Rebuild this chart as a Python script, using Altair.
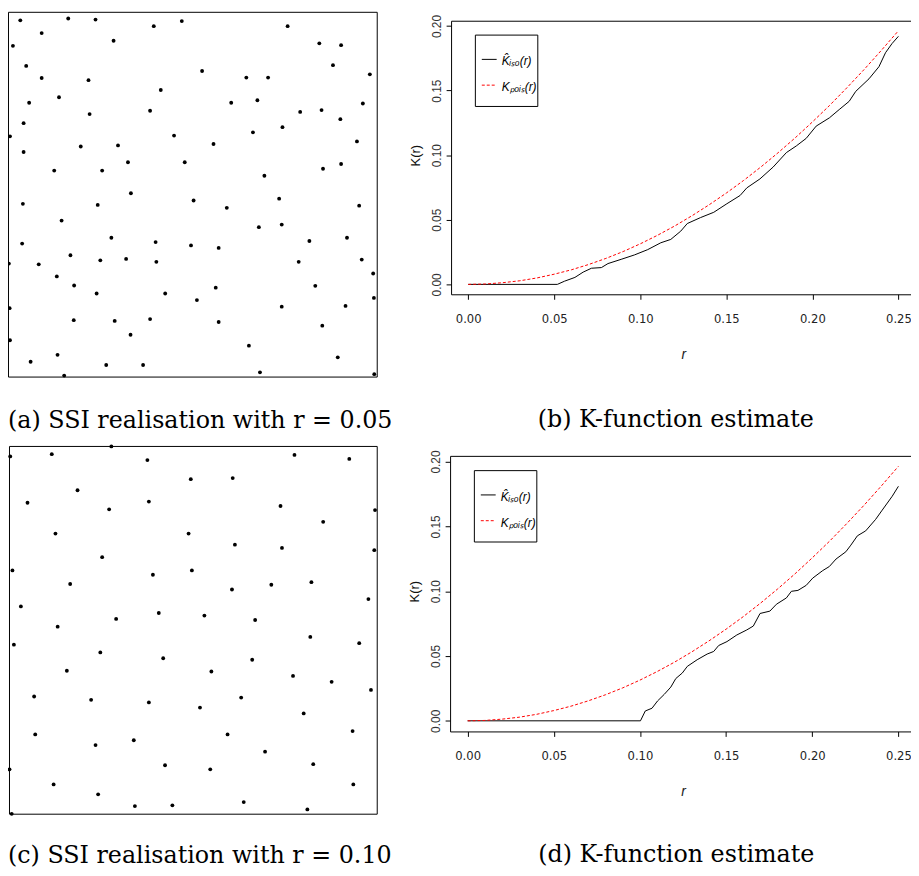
import altair as alt
import pandas as pd

# ---------------- data ----------------
# (a) SSI realisation, r = 0.05, unit square window
a_x = [0.032, 0.162, 0.236, 0.394, 0.470, 0.757, 0.090, 0.285, 0.012, 0.843,
       0.902, 0.048, 0.880, 0.525, 0.090, 0.217, 0.645, 0.704, 0.980, 0.413,
       0.137, 0.056, 0.604, 0.675, 0.961, 0.220, 0.384, 0.791, 0.849, 0.900,
       0.041, 0.743, 0.663, 0.004, 0.449, 0.556, 0.945, 0.041, 0.196, 0.297,
       0.324, 0.478, 0.124, 0.254, 0.853, 0.902, 0.694, 0.332, 0.734, 0.039,
       0.242, 0.502, 0.592, 0.951, 0.144, 0.679, 0.741, 0.279, 0.037, 0.399,
       0.495, 0.570, 0.816, 0.918, 0.168, 0.001, 0.082, 0.249, 0.319, 0.401,
       0.787, 0.958, 0.131, 0.989, 0.178, 0.239, 0.425, 0.562, 0.832, 0.511,
       0.991, 0.741, 0.914, 0.003, 0.177, 0.288, 0.384, 0.570, 0.851, 0.331,
       0.004, 0.652, 0.893, 0.133, 0.060, 0.265, 0.365, 0.682, 0.992, 0.151]
a_y = [0.978, 0.983, 0.980, 0.962, 0.976, 0.962, 0.943, 0.922, 0.908, 0.915,
       0.910, 0.853, 0.855, 0.839, 0.820, 0.814, 0.821, 0.821, 0.830, 0.787,
       0.767, 0.752, 0.752, 0.759, 0.750, 0.721, 0.730, 0.727, 0.732, 0.707,
       0.696, 0.685, 0.671, 0.660, 0.662, 0.639, 0.646, 0.617, 0.632, 0.635,
       0.589, 0.589, 0.566, 0.566, 0.571, 0.584, 0.552, 0.504, 0.489, 0.475,
       0.472, 0.484, 0.464, 0.470, 0.429, 0.411, 0.418, 0.382, 0.366, 0.370,
       0.361, 0.354, 0.373, 0.382, 0.334, 0.311, 0.309, 0.320, 0.324, 0.316,
       0.316, 0.322, 0.276, 0.284, 0.251, 0.229, 0.229, 0.245, 0.250, 0.211,
       0.217, 0.193, 0.195, 0.189, 0.156, 0.154, 0.159, 0.151, 0.141, 0.116,
       0.101, 0.086, 0.054, 0.061, 0.042, 0.033, 0.033, 0.013, 0.008, 0.004]

# (c) SSI realisation, r = 0.10
c_x = [0.277, 0.002, 0.115, 0.375, 0.775, 0.924, 0.493, 0.607, 0.185, 0.049,
       0.379, 0.271, 0.737, 0.994, 0.853, 0.125, 0.487, 0.613, 0.741, 0.992,
       0.252, 0.008, 0.390, 0.496, 0.165, 0.605, 0.712, 0.821, 0.976, 0.031,
       0.406, 0.530, 0.290, 0.668, 0.131, 0.818, 0.012, 0.951, 0.247, 0.418,
       0.660, 0.156, 0.549, 0.771, 0.876, 0.983, 0.067, 0.222, 0.379, 0.630,
       0.518, 0.800, 0.933, 0.070, 0.593, 0.338, 0.234, 0.695, 0.423, 0.826,
       0.000, 0.546, 0.120, 0.935, 0.241, 0.637, 0.341, 0.443, 0.810, 0.006]
c_y = [1.000, 0.973, 0.979, 0.963, 0.977, 0.966, 0.911, 0.914, 0.881, 0.847,
       0.850, 0.829, 0.838, 0.827, 0.795, 0.763, 0.763, 0.733, 0.724, 0.718,
       0.699, 0.663, 0.651, 0.663, 0.626, 0.611, 0.624, 0.631, 0.585, 0.565,
       0.547, 0.540, 0.531, 0.528, 0.510, 0.482, 0.461, 0.465, 0.440, 0.424,
       0.420, 0.390, 0.388, 0.376, 0.360, 0.338, 0.320, 0.311, 0.304, 0.317,
       0.290, 0.274, 0.226, 0.217, 0.217, 0.201, 0.188, 0.170, 0.133, 0.136,
       0.122, 0.122, 0.081, 0.081, 0.054, 0.033, 0.022, 0.024, 0.013, 0.001]

# theoretical Poisson K (red dashed), same in (b) and (d)
r_pois = [0.00, 0.01, 0.02, 0.03, 0.04, 0.05, 0.06, 0.07, 0.08, 0.09, 0.10, 0.11, 0.12,
          0.13, 0.14, 0.15, 0.16, 0.17, 0.18, 0.19, 0.20, 0.21, 0.22, 0.23, 0.24, 0.25]
k_pois = [0.0000, 0.0003, 0.0013, 0.0028, 0.0050, 0.0079, 0.0113, 0.0154, 0.0201,
          0.0254, 0.0314, 0.0380, 0.0452, 0.0531, 0.0616, 0.0707, 0.0804, 0.0908,
          0.1018, 0.1134, 0.1257, 0.1385, 0.1521, 0.1662, 0.1810, 0.1963]

# (b) isotropic K estimate
b_r = [0.0, 0.0518, 0.0560, 0.0620, 0.0668, 0.0716, 0.0774, 0.0812, 0.0889, 0.0966,
       0.1043, 0.1119, 0.1177, 0.1235, 0.1273, 0.1350, 0.1427, 0.1503, 0.1580, 0.1619,
       0.1695, 0.1772, 0.1849, 0.1907, 0.1964, 0.2022, 0.2099, 0.2156, 0.2214, 0.2252,
       0.2329, 0.2387, 0.2425, 0.2463, 0.2500]
b_k = [0.0, 0.0, 0.0025, 0.0054, 0.0095, 0.0125, 0.0130, 0.0161, 0.0194, 0.0228,
       0.0269, 0.0322, 0.0348, 0.0412, 0.0471, 0.0517, 0.0558, 0.0624, 0.0688, 0.0747,
       0.0816, 0.0908, 0.1020, 0.1072, 0.1130, 0.1225, 0.1289, 0.1353, 0.1417, 0.1494,
       0.1591, 0.1685, 0.1793, 0.1864, 0.1920]

# (d) isotropic K estimate
d_r = [0.0, 0.1003, 0.1031, 0.1070, 0.1102, 0.1141, 0.1179, 0.1208, 0.1246, 0.1275,
       0.1332, 0.1390, 0.1428, 0.1457, 0.1505, 0.1562, 0.1620, 0.1658, 0.1697, 0.1754,
       0.1792, 0.1850, 0.1879, 0.1917, 0.1965, 0.2003, 0.2061, 0.2099, 0.2138, 0.2195,
       0.2224, 0.2262, 0.2310, 0.2368, 0.2406, 0.2464, 0.2500]
d_k = [0.0, 0.0, 0.0076, 0.0097, 0.0153, 0.0204, 0.0260, 0.0326, 0.0369, 0.0420,
       0.0471, 0.0515, 0.0535, 0.0581, 0.0611, 0.0662, 0.0701, 0.0731, 0.0828, 0.0846,
       0.0899, 0.0948, 0.0999, 0.1006, 0.1045, 0.1101, 0.1159, 0.1190, 0.1248, 0.1304,
       0.1355, 0.1427, 0.1465, 0.1554, 0.1625, 0.1732, 0.1809]

x_ticks = [0.00, 0.05, 0.10, 0.15, 0.20, 0.25]
y_ticks = [0.00, 0.05, 0.10, 0.15, 0.20]

captions = ["(a) SSI realisation with r = 0.05", "(b) K-function estimate",
            "(c) SSI realisation with r = 0.10", "(d) K-function estimate"]
legend_labels = ["K\u0302\u1d62\u209b\u2092(r)", "K\u209a\u2092\u1d62\u209b(r)"]

# ---------------- layout ----------------
W, H = 911, 866
SANS = "Liberation Sans"
NARROW = "Liberation Sans Narrow, DejaVu Sans Condensed, Liberation Sans, sans-serif"
SERIF = "DejaVu Serif"


def box(x1, x2, y1, y2):
    return alt.Chart(pd.DataFrame({"v": [0]})).mark_rect(
        fillOpacity=0, stroke="black", strokeWidth=1
    ).encode(x=alt.value(x1), x2=alt.value(x2), y=alt.value(y1), y2=alt.value(y2))


def points(xs, ys, xr, yr):
    df = pd.DataFrame({"x": xs, "y": ys})
    return alt.Chart(df).mark_circle(size=15, color="black", opacity=1).encode(
        x=alt.X("x:Q", scale=alt.Scale(domain=[0, 1], range=xr, nice=False, zero=False), axis=None),
        y=alt.Y("y:Q", scale=alt.Scale(domain=[0, 1], range=yr, nice=False, zero=False), axis=None),
    )


def kline(r, k, xr, yr, color, dash=None, axes=None):
    df = pd.DataFrame({"r": r, "k": k})
    mk = dict(color=color, strokeWidth=1)
    if dash:
        mk["strokeDash"] = dash
    xs = alt.Scale(domain=[0, 0.25], range=xr, nice=False, zero=False)
    ys = alt.Scale(domain=[0, 0.2], range=yr, nice=False, zero=False)
    if axes:
        ax_bottom, ax_left = axes
        xaxis = alt.Axis(orient="bottom", offset=ax_bottom - H, values=x_ticks, format=".2f",
                         domain=False, grid=False, ticks=True, tickSize=5, tickColor="black",
                         labelFont=NARROW, labelFontSize=13, labelPadding=13, labelColor="#222",
                         labelFlush=False, labelOverlap=False,
                         title="r", titleFont=SANS, titleFontStyle="italic", titleFontWeight="normal",
                         titleFontSize=14, titleColor="#222", titleBaseline="alphabetic", titleY=65)
        yaxis = alt.Axis(orient="left", offset=-ax_left, values=y_ticks, format=".2f",
                         domain=False, grid=False, ticks=True, tickSize=5, tickColor="black",
                         labelFont=SANS, labelFontSize=12, labelAngle=270, labelAlign="center",
                         labelBaseline="bottom", labelPadding=3, labelColor="#333",
                         labelFlush=False, labelOverlap=False,
                         title="K(r)", titleFont=SANS, titleFontWeight="normal", titleFontSize=13,
                         titleColor="#111", titleBaseline="middle", titleX=-36)
    else:
        xaxis, yaxis = None, None
    return alt.Chart(df).mark_line(**mk).encode(
        x=alt.X("r:Q", scale=xs, axis=xaxis),
        y=alt.Y("k:Q", scale=ys, axis=yaxis),
    )


def text(t, x, y, size, font, align="center", style="normal"):
    return alt.Chart(pd.DataFrame({"t": [t]})).mark_text(
        font=font, fontSize=size, align=align, baseline="alphabetic", color="black", fontStyle=style
    ).encode(x=alt.value(x), y=alt.value(y), text="t:N")


def rule(x1, x2, y, color, dash=None):
    mk = dict(color=color, strokeWidth=1)
    if dash:
        mk["strokeDash"] = dash
    return alt.Chart(pd.DataFrame({"v": [0]})).mark_rule(**mk).encode(
        x=alt.value(x1), x2=alt.value(x2), y=alt.value(y))


def legend(dx, dy):
    return [
        box(471.5 + dx, 534.5 + dx, 23.5 + dy, 95.5 + dy),
        rule(478 + dx, 493 + dx, 48 + dy, "black"),
        rule(478 + dx, 493 + dx, 74 + dy, "red", [3, 2]),
        text(legend_labels[0], 498 + dx, 54 + dy, 12, SANS, align="left", style="italic"),
        text(legend_labels[1], 498 + dx, 80 + dy, 12, SANS, align="left", style="italic"),
    ]


layers = []
# panel (a)
layers.append(box(0.5, 372.5, 0.5, 368.5))
layers.append(points(a_x, a_y, [0.5, 372.5], [368.5, 0.5]))
# panel (c)
layers.append(box(1.5, 372.5, 438.5, 809.5))
layers.append(points(c_x, c_y, [1.5, 372.5], [809.5, 438.5]))
# panel (b)
layers.append(box(447.5, 915, 9.5, 285.5))
layers.append(kline(b_r, b_k, [464.3, 898.3], [275, 14.3], "black", axes=(285, 447)))
layers.append(kline(r_pois, k_pois, [464.3, 898.3], [275, 14.3], "red", dash=[3, 2]))
layers += legend(0, 0)
# panel (d)
layers.append(box(446.5, 915, 448.5, 726.5))
layers.append(kline(d_r, d_k, [463.7, 898.3], [715.3, 453.7], "black", axes=(726, 446)))
layers.append(kline(r_pois, k_pois, [463.7, 898.3], [715.3, 453.7], "red", dash=[3, 2]))
layers += legend(-1, 439.4)
# captions
layers.append(text(captions[0], 0, 419.7, 24, SERIF, align="left"))
layers.append(text(captions[1], 673.7, 419.0, 24, SERIF))
layers.append(text(captions[2], 0, 858.3, 24, SERIF, align="left"))
layers.append(text(captions[3], 674.2, 858.0, 24, SERIF))

chart = alt.layer(*layers).resolve_scale(x="independent", y="independent").properties(
    width=W, height=H, padding=0, autosize="none"
).configure_view(stroke=None)

chart.save("out.html", embed_options={"renderer": "svg", "actions": False})
